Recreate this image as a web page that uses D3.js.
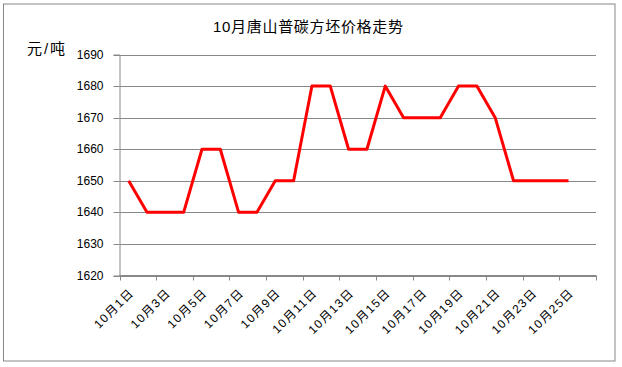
<!DOCTYPE html>
<html><head><meta charset="utf-8">
<script src="https://d3js.org/d3.v7.min.js"></script>
<style>body{margin:0;background:#fff}svg{display:block}</style>
</head><body>
<script>
const title = "10月唐山普碳方坯价格走势";
const yLabel = "元/吨";
const categories = Array.from({length: 26}, (_, i) => `10月${i + 1}日`);
const prices = [1650,1640,1640,1640,1660,1660,1640,1640,1650,1650,1680,1680,1660,1660,1680,1670,1670,1670,1680,1680,1670,1650,1650,1650,1650,null];
const yTicks = [1620,1630,1640,1650,1660,1670,1680,1690];

const W = 622, H = 367;
const m = {left: 119.5, right: 596, top: 54.5, bottom: 275.5};
const font = "'Liberation Sans', 'Noto Sans CJK SC', sans-serif";

const svg = d3.select("body").append("svg").attr("width", W).attr("height", H);
svg.append("rect").attr("x", 3.5).attr("y", 4).attr("width", 611.5).attr("height", 357)
  .attr("fill", "#fff").attr("stroke", "#888").attr("stroke-width", 1);

const x = d3.scaleBand().domain(categories).range([m.left, m.right]).paddingInner(0).paddingOuter(0);
const y = d3.scaleLinear().domain([1620, 1690]).range([m.bottom, m.top]);

// gridlines
svg.append("g").selectAll("line").data(yTicks).join("line")
  .attr("x1", m.left).attr("x2", m.right)
  .attr("y1", d => Math.round(y(d)) + 0.5).attr("y2", d => Math.round(y(d)) + 0.5)
  .attr("stroke", "#888").attr("stroke-width", 1);

// y axis
const yAxis = svg.append("g").attr("transform", `translate(${m.left},0)`)
  .call(d3.axisLeft(y).tickValues(yTicks).tickSize(6).tickPadding(10).tickFormat(d3.format("d")));
yAxis.select(".domain").attr("stroke", "#888");
yAxis.selectAll(".tick line").attr("stroke", "#888");
yAxis.selectAll(".tick").attr("transform", d => `translate(0,${Math.round(y(d)) + 0.5})`);
yAxis.selectAll("text").attr("fill", "#000").style("font-family", font).style("font-size", "12px");

// x axis line and ticks (every 2 categories at boundaries)
svg.append("line").attr("x1", m.left).attr("x2", m.right).attr("y1", m.bottom).attr("y2", m.bottom).attr("stroke", "#888");
const bnds = d3.range(0, categories.length + 1, 2).map(i => i < categories.length ? x(categories[i]) : m.right);
svg.append("g").selectAll("line").data(bnds).join("line")
  .attr("x1", d => Math.round(d) + 0.5).attr("x2", d => Math.round(d) + 0.5)
  .attr("y1", m.bottom).attr("y2", m.bottom + 5).attr("stroke", "#888");

// x labels
svg.append("g").selectAll("text").data(categories.filter((d, i) => i % 2 === 0)).join("text")
  .attr("transform", d => `translate(${x(d) + x.bandwidth() / 2 + 3},${m.bottom + 15}) rotate(-45)`)
  .attr("text-anchor", "end").attr("dy", "0.35em")
  .style("font-family", font).style("font-size", "12px").style("letter-spacing", "1.3px").attr("fill", "#000")
  .text(d => d);

// line
const line = d3.line().defined(d => d.v != null)
  .x(d => x(d.c) + x.bandwidth() / 2).y(d => y(d.v));
svg.append("path").datum(categories.map((c, i) => ({c, v: prices[i]})))
  .attr("d", line).attr("fill", "none").attr("stroke", "#ff0000").attr("stroke-width", 3)
  .attr("stroke-linejoin", "round");

// title and unit
svg.append("text").attr("x", 213).attr("y", 32).attr("text-anchor", "start")
  .attr("textLength", 190).attr("lengthAdjust", "spacing")
  .style("font-family", font).style("font-size", "15px").attr("fill", "#000").text(title);
svg.append("text").attr("x", 27).attr("y", 54)
  .attr("textLength", 38).attr("lengthAdjust", "spacing")
  .style("font-family", font).style("font-size", "15px").attr("fill", "#000").text(yLabel);
</script>
</body></html>
